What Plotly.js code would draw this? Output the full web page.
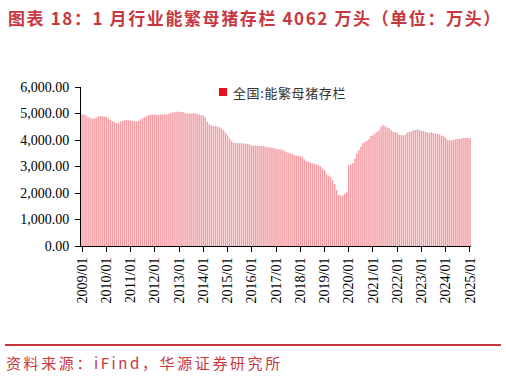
<!DOCTYPE html>
<html>
<head>
<meta charset="utf-8">
<script src="https://cdn.plot.ly/plotly-3.0.1.min.js"></script>
<style>
html,body{margin:0;padding:0;background:#fff;}
#chart{width:506px;height:378px;}
</style>
</head>
<body>
<div id="chart"></div>
<script>
// 全国:能繁母猪存栏（万头），月度 2009/01 - 2025/01
const v2009 = [4975, 4960, 4920, 4870, 4830, 4810, 4815, 4850, 4890, 4900, 4905, 4890];
const v2010 = [4870, 4820, 4760, 4710, 4680, 4630, 4620, 4700, 4720, 4740, 4750, 4750];
const v2011 = [4740, 4720, 4710, 4700, 4720, 4780, 4830, 4860, 4900, 4940, 4950, 4960];
const v2012 = [4960, 4950, 4950, 4960, 4960, 4960, 4970, 4990, 5020, 5050, 5060, 5070];
const v2013 = [5070, 5060, 5050, 5020, 5000, 5000, 4990, 5000, 5000, 4990, 4960, 4930];
const v2014 = [4930, 4850, 4680, 4600, 4550, 4530, 4520, 4510, 4480, 4430, 4370, 4280];
const v2015 = [4180, 4060, 3960, 3900, 3890, 3880, 3880, 3870, 3870, 3860, 3850, 3820];
const v2016 = [3790, 3780, 3780, 3780, 3770, 3770, 3760, 3750, 3730, 3720, 3710, 3700];
const v2017 = [3670, 3650, 3640, 3630, 3600, 3550, 3520, 3500, 3480, 3430, 3410, 3400];
const v2018 = [3390, 3370, 3270, 3200, 3180, 3150, 3120, 3100, 3080, 3050, 3000, 2920];
const v2019 = [2860, 2720, 2660, 2600, 2480, 2340, 2110, 1930, 1890, 1900, 1980, 2030];
const v2020 = [3050, 3080, 3120, 3300, 3490, 3620, 3740, 3880, 3920, 3970, 4030, 4160];
const v2021 = [4180, 4250, 4300, 4370, 4500, 4560, 4530, 4470, 4450, 4370, 4300, 4290];
const v2022 = [4270, 4200, 4185, 4177, 4192, 4277, 4298, 4324, 4362, 4379, 4394, 4390];
const v2023 = [4343, 4343, 4305, 4284, 4258, 4296, 4261, 4241, 4240, 4210, 4158, 4142];
const v2024 = [4067, 3992, 3992, 3986, 3996, 4038, 4042, 4036, 4062, 4072, 4080, 4078];
const v2025 = [4062];

const tickLabels = ['2009/01','2010/01','2011/01','2012/01','2013/01','2014/01','2015/01','2016/01',
  '2017/01','2018/01','2019/01','2020/01','2021/01','2022/01','2023/01','2024/01','2025/01'];

const seriesName = '全国:能繁母猪存栏';
const titleText = '图表 18：1 月行业能繁母猪存栏 4062 万头（单位：万头）';
const sourceText = '资料来源：iFind，华源证券研究所';

const values = [].concat(v2009, v2010, v2011, v2012, v2013, v2014, v2015, v2016,
  v2017, v2018, v2019, v2020, v2021, v2022, v2023, v2024, v2025);
const xIdx = values.map((_, i) => i);
const tickVals = tickLabels.map((_, i) => i * 12);

// layout geometry (pixels)
const W = 506, H = 378;
const mL = 81, mR = 35, mT = 87, mB = 132;
const pw = W - mL - mR, ph = H - mT - mB;
const px2x = p => (p - mL) / pw;
const px2y = p => (H - mB - p) / ph;

const red = '#C8373F';
const spaced = (t, s) => '<span style="letter-spacing:' + s + 'px">' + t + '</span>';

const trace = {
  type: 'bar',
  x: xIdx,
  y: values,
  name: seriesName,
  width: 0.72,
  marker: {color: '#F49BA2', line: {width: 0}},
  showlegend: false,
  hoverinfo: 'x+y'
};

const layout = {
  width: W, height: H,
  margin: {l: mL, r: mR, t: mT, b: mB, pad: 0},
  paper_bgcolor: '#fff', plot_bgcolor: '#fff',
  showlegend: false,
  xaxis: {
    range: [-0.5, values.length - 0.5],
    tickmode: 'array', tickvals: tickVals, ticktext: tickLabels,
    tickangle: -90,
    ticks: 'outside', ticklen: 5, tickcolor: '#000', tickwidth: 1,
    showline: true, linecolor: '#000', linewidth: 1,
    showgrid: false, zeroline: false,
    tickfont: {family: 'Liberation Serif, Times New Roman, serif', size: 14, color: '#000'},
    fixedrange: true
  },
  yaxis: {
    range: [0, 6000],
    tickmode: 'linear', tick0: 0, dtick: 1000,
    tickformat: ',.2f',
    ticks: 'outside', ticklen: 5, tickcolor: '#000', tickwidth: 1,
    ticklabelstandoff: 3,
    showline: true, linecolor: '#000', linewidth: 1,
    showgrid: false, zeroline: false,
    tickfont: {family: 'Liberation Serif, Times New Roman, serif', size: 14, color: '#000'},
    fixedrange: true
  },
  shapes: [
    {type: 'rect', xref: 'paper', yref: 'paper',
     x0: px2x(219), x1: px2x(227), y0: px2y(96), y1: px2y(88),
     fillcolor: '#E8101E', line: {width: 0}},
    {type: 'line', xref: 'paper', yref: 'paper',
     x0: px2x(5), x1: px2x(501), y0: px2y(345), y1: px2y(345),
     line: {color: red, width: 2}}
  ],
  annotations: [
    {xref: 'paper', yref: 'paper', x: px2x(6), y: px2y(17), xanchor: 'left', yanchor: 'middle',
     text: '<b>' + spaced(titleText, 1.6) + '</b>', showarrow: false,
     font: {family: 'Noto Sans CJK SC, sans-serif', size: 17, color: red}},
    {xref: 'paper', yref: 'paper', x: px2x(231), y: px2y(92), xanchor: 'left', yanchor: 'middle',
     text: spaced(seriesName, 0.6), showarrow: false,
     font: {family: 'Noto Sans CJK SC, sans-serif', size: 13, color: '#333'}},
    {xref: 'paper', yref: 'paper', x: px2x(4), y: px2y(362), xanchor: 'left', yanchor: 'middle',
     text: spaced(sourceText, 2.6), showarrow: false,
     font: {family: 'Noto Sans CJK SC, sans-serif', size: 15, color: red}}
  ]
};

Plotly.newPlot('chart', [trace], layout, {displayModeBar: false, staticPlot: true});
</script>
</body>
</html>
